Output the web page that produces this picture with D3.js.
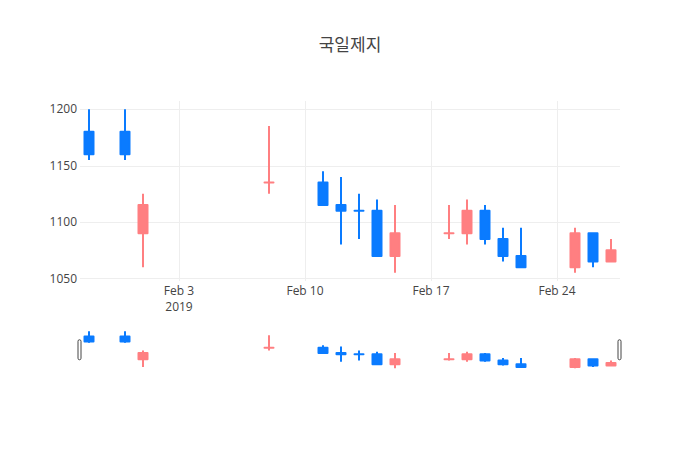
<!DOCTYPE html>
<html>
<head>
<meta charset="utf-8">
<script src="https://cdn.jsdelivr.net/npm/d3@7"></script>
<style>
  body { margin: 0; background: #fff; }
  text { font-family: "Open Sans", "Noto Sans CJK KR", sans-serif; }
</style>
</head>
<body>
<svg id="chart" width="700" height="450"></svg>
<script>
var title = "국일제지";
var dates = ["2019-01-29", "2019-01-31", "2019-02-01", "2019-02-08", "2019-02-11", "2019-02-12",
             "2019-02-13", "2019-02-14", "2019-02-15", "2019-02-18", "2019-02-19", "2019-02-20",
             "2019-02-21", "2019-02-22", "2019-02-25", "2019-02-26", "2019-02-27"];
var open  = [1180, 1180, 1090, 1135, 1135, 1115, 1110, 1110, 1070, 1090, 1090, 1110, 1085, 1070, 1060, 1090, 1065];
var high  = [1200, 1200, 1125, 1185, 1145, 1140, 1125, 1120, 1115, 1115, 1120, 1115, 1095, 1095, 1095, 1090, 1085];
var low   = [1155, 1155, 1060, 1125, 1115, 1080, 1085, 1070, 1055, 1085, 1080, 1080, 1065, 1060, 1055, 1060, 1065];
var close = [1160, 1160, 1115, 1135, 1115, 1110, 1110, 1070, 1090, 1090, 1110, 1085, 1070, 1060, 1090, 1065, 1075];
var yTicks = [1050, 1100, 1150, 1200];
var xTicks = ["2019-02-03", "2019-02-10", "2019-02-17", "2019-02-24"];
var xTickLabels = [["Feb 3", "2019"], ["Feb 10"], ["Feb 17"], ["Feb 24"]];

(function() {
  var incColor = "#ff7f81", decColor = "#0a7bff";

  var parse = d3.utcParse("%Y-%m-%d");
  var day = 864e5;

  // direction like plotly: flat candles compare with previous close
  var rows = [], lastInc = true, prevC = null;
  dates.forEach(function(d, i) {
    var o = open[i], c = close[i], inc;
    if (o !== c) inc = c > o;
    else if (prevC !== null && c !== prevC) inc = c > prevC;
    else inc = lastInc;
    lastInc = inc; prevC = c;
    rows.push({date: parse(d), o: o, h: high[i], l: low[i], c: c, inc: inc});
  });

  var left = 80, right = 620, plotTop = 101, plotBottom = 281;
  var sliderTop = 329.5, sliderBottom = 370;

  var xDomain = [new Date(+rows[0].date - day / 2), new Date(+rows[rows.length - 1].date + day / 2)];
  var x = d3.scaleUtc().domain(xDomain).range([left, right]);

  var yMin = d3.min(low), yMax = d3.max(high), pad = (yMax - yMin) * 0.05;
  var y = d3.scaleLinear().domain([yMin - pad, yMax + pad]).range([plotBottom, plotTop]);
  var ySlider = d3.scaleLinear().domain(y.domain()).range([sliderBottom, sliderTop]);

  var svg = d3.select("#chart");

  svg.append("text")
    .attr("x", 350).attr("y", 51)
    .attr("text-anchor", "middle")
    .attr("font-size", 17).attr("fill", "#444")
    .text(title);

  // grid
  var grid = svg.append("g");
  grid.selectAll(".hg").data(yTicks).enter().append("line")
    .attr("x1", left).attr("x2", right)
    .attr("y1", function(d) { return Math.round(y(d)) + 0.5; })
    .attr("y2", function(d) { return Math.round(y(d)) + 0.5; })
    .attr("stroke", "#eee");
  grid.selectAll(".vg").data(xTicks).enter().append("line")
    .attr("x1", function(d) { return Math.round(x(parse(d))) + 0.5; })
    .attr("x2", function(d) { return Math.round(x(parse(d))) + 0.5; })
    .attr("y1", plotTop).attr("y2", plotBottom)
    .attr("stroke", "#eee");

  // y labels
  svg.append("g").selectAll("text").data(yTicks).enter().append("text")
    .attr("x", 77).attr("y", function(d) { return y(d); })
    .attr("dy", "0.35em")
    .attr("text-anchor", "end")
    .attr("font-size", 12).attr("fill", "#444")
    .text(function(d) { return d; });

  // x labels
  var xl = svg.append("g").selectAll("text").data(xTicks).enter().append("text")
    .attr("x", function(d) { return x(parse(d)); })
    .attr("y", 295)
    .attr("text-anchor", "middle")
    .attr("font-size", 12).attr("fill", "#444");
  xl.each(function(d, i) {
    var t = d3.select(this);
    xTickLabels[i].forEach(function(line, j) {
      t.append("tspan").attr("x", x(parse(d))).attr("dy", j ? 15.6 : 0).text(line);
    });
  });

  var bodyW = 0.5 * (x(new Date(day)) - x(new Date(0)));

  function drawCandles(g, ys) {
    var c = g.selectAll("g").data(rows).enter().append("g")
      .attr("stroke", function(d) { return d.inc ? incColor : decColor; })
      .attr("fill", function(d) { return d.inc ? incColor : decColor; })
      .attr("stroke-width", 2)
      .attr("stroke-linejoin", "round");
    c.append("line")
      .attr("x1", function(d) { return x(d.date); })
      .attr("x2", function(d) { return x(d.date); })
      .attr("y1", function(d) { return ys(d.h); })
      .attr("y2", function(d) { return ys(d.l); });
    // body as a closed path so flat candles still show as a dash
    c.append("path")
      .attr("d", function(d) {
        var x0 = x(d.date) - bodyW / 2, x1 = x(d.date) + bodyW / 2,
            y0 = ys(Math.max(d.o, d.c)), y1 = ys(Math.min(d.o, d.c));
        return "M" + x0 + "," + y0 + "H" + x1 + "V" + y1 + "H" + x0 + "Z";
      });
  }

  drawCandles(svg.append("g"), y);

  // range slider
  var slider = svg.append("g");
  drawCandles(slider.append("g"), ySlider);
  var hMid = (sliderTop + sliderBottom) / 2;
  [left, right].forEach(function(px) {
    slider.append("rect")
      .attr("x", px - 2).attr("y", hMid - 10)
      .attr("width", 3).attr("height", 20)
      .attr("rx", 1.5)
      .attr("fill", "#fff").attr("stroke", "#444").attr("stroke-width", 1);
  });
})();
</script>
</body>
</html>
